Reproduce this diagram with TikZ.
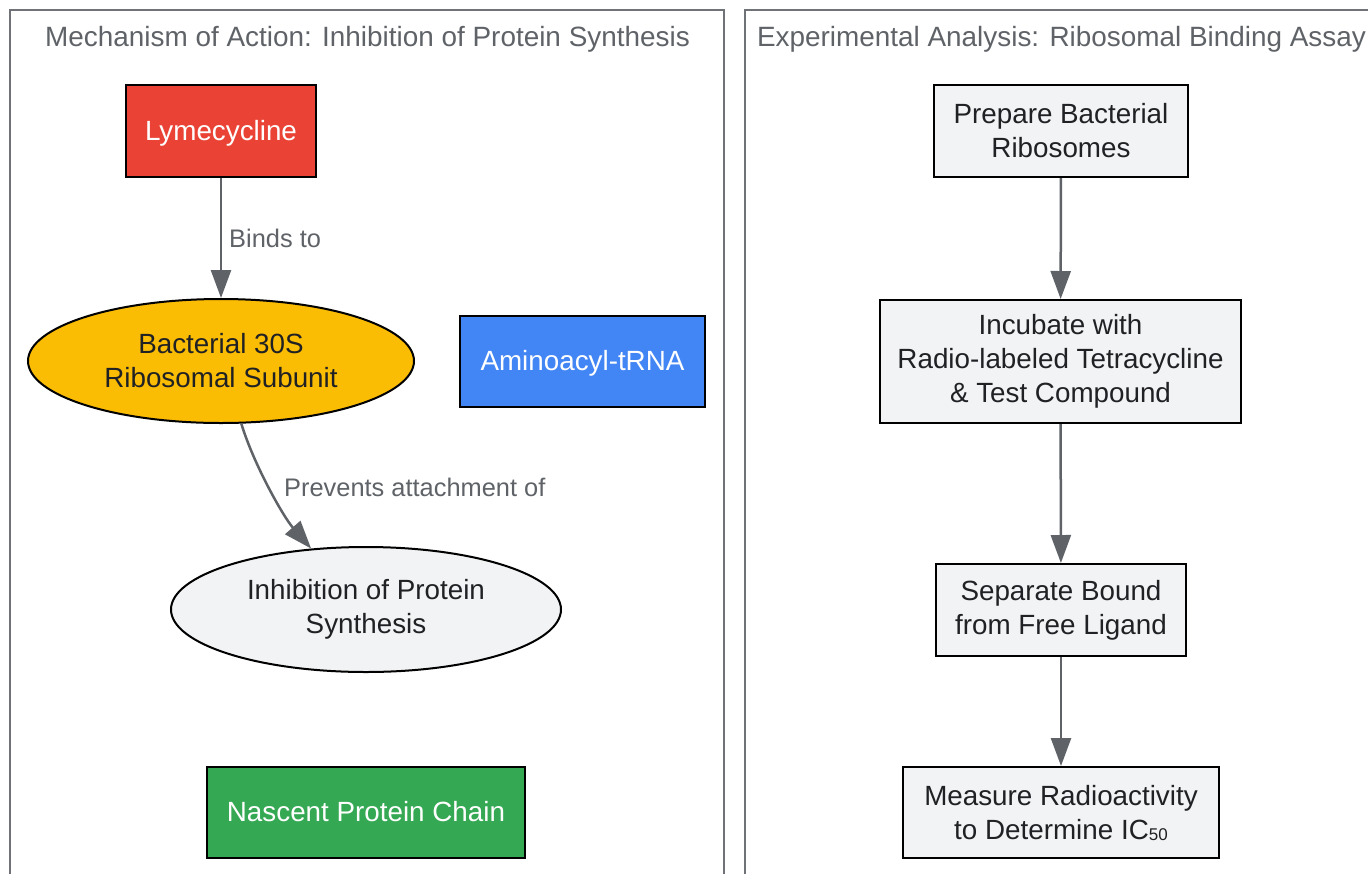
\documentclass[tikz,border=0pt]{standalone}
\usepackage{fontspec}
\setmainfont{Liberation Sans}
\usetikzlibrary{shapes.geometric,arrows.meta}
\definecolor{gred}{HTML}{EA4335}
\definecolor{gyellow}{HTML}{FBBC04}
\definecolor{gblue}{HTML}{4285F4}
\definecolor{ggreen}{HTML}{34A853}
\definecolor{glight}{HTML}{F1F3F4}
\definecolor{gdark}{HTML}{202124}
\definecolor{ggray}{HTML}{5F6368}
\tikzset{
  box/.style={draw=black, line width=2pt, rectangle, inner sep=0pt, align=center,
    font=\fontsize{27.8}{34}\selectfont, text=gdark},
  oneline/.style={text height=24pt, text depth=6pt},
  oval/.style={draw=black, line width=2pt, ellipse, inner sep=0pt, align=center,
    font=\fontsize{27.8}{34}\selectfont, text=gdark},
  cluster/.style={draw=ggray!90, line width=2pt},
  ctitle/.style={font=\fontsize{27.9}{34}\selectfont, text=ggray},
  conn/.style={draw=ggray, line width=2.5pt, -{Triangle[length=28pt,width=20pt]}},
  elabel/.style={font=\fontsize{25.4}{30}\selectfont, text=ggray, anchor=west, inner sep=0pt},
}
\begin{document}
\begin{tikzpicture}[x=1pt,y=-1pt]
\clip (0,0) rectangle (1368,873);
\fill[white] (0,0) rectangle (1368,873);
% clusters
\draw[cluster] (10,10) rectangle (724,900);
\draw[cluster] (745,10) rectangle (1380,900);
\node[ctitle] (t1) at (367.5,39.5) {Mechanism of Action: Inhibition of Protein Synthesis};
\node[ctitle] (t2) at (1061.5,39.5) {Experimental Analysis: Ribosomal Binding Assay};
% left nodes
\node[box, oneline, fill=gred, text=white, minimum width=190, minimum height=92] (lyme) at (221,131) {Lymecycline};
\node[oval, fill=gyellow, minimum width=386, minimum height=124] (ribo) at (221,361) {Bacterial 30S\\Ribosomal Subunit};
\node[box, oneline, fill=gblue, text=white, minimum width=245, minimum height=91] (trna) at (582.5,361.5) {Aminoacyl-tRNA};
\node[oval, fill=glight, minimum width=390, minimum height=125] (inhib) at (366,609.5) {Inhibition of Protein\\Synthesis};
\node[box, oneline, fill=ggreen, text=white, minimum width=318, minimum height=91] (chain) at (366,812.5) {Nascent Protein Chain};
% right nodes
\node[box, fill=glight, minimum width=254, minimum height=92] (prep) at (1061,131) {Prepare Bacterial\\Ribosomes};
\node[box, fill=glight, minimum width=361, minimum height=123] (incub) at (1060.5,361.5) {Incubate with\\Radio-labeled Tetracycline\\\& Test Compound};
\node[box, fill=glight, minimum width=250, minimum height=92] (sep) at (1061,610) {Separate Bound\\from Free Ligand};
\node[box, fill=glight, minimum width=316, minimum height=91] (meas) at (1061,812.5) {Measure Radioactivity\\to Determine IC\raisebox{-1pt}{\fontsize{17}{17}\selectfont 50}};
% connectors
\draw[conn] (lyme) -- (ribo);
\node[elabel] (l1) at (229,238) {Binds to};
\draw[conn] (ribo.-72) .. controls +(12,40) and +(-28,-32) .. (inhib.132);
\node[elabel] (l2) at (284,487) {Prevents attachment of};
\draw[conn] (prep) -- (incub);
\draw[conn] (incub) -- (sep);
\draw[conn] (sep) -- (meas);
\end{tikzpicture}
\end{document}
